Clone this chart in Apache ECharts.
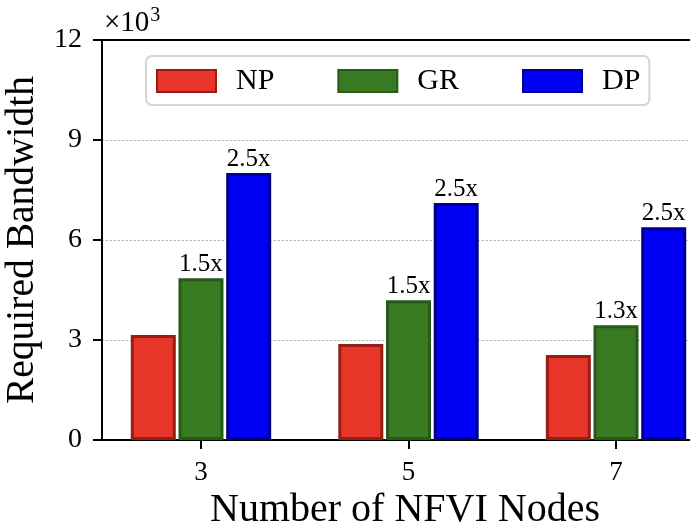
<!DOCTYPE html>
<html>
<head>
<meta charset="utf-8">
<script src="https://cdn.jsdelivr.net/npm/echarts@6/dist/echarts.min.js"></script>
<style>
html,body{margin:0;padding:0;background:#fff;}
#chart{width:690px;height:531px;}
</style>
</head>
<body>
<div id="chart"></div>
<script>
// ---- data ----
var nodes = [3, 5, 7];
var npValues = [3150, 2880, 2550];
var grValues = [4850, 4190, 3440];
var dpValues = [8010, 7110, 6380];
var grLabels = ['1.5x', '1.5x', '1.3x'];
var dpLabels = ['2.5x', '2.5x', '2.5x'];
var yTicks = [0, 3000, 6000, 9000, 12000];
var seriesNames = ['NP', 'GR', 'DP'];

var FONT = '"Liberation Serif", "Times New Roman", serif';

function pairs(vals) {
  return vals.map(function (v, i) { return [nodes[i], v]; });
}

function makeSeries(name, vals, fill, border, labels) {
  var s = {
    name: name,
    type: 'bar',
    xAxisIndex: 0,
    data: pairs(vals),
    barWidth: 45,
    barGap: '6%',
    itemStyle: { color: fill, borderColor: border, borderWidth: 3 },
    emphasis: { disabled: true },
    animation: false
  };
  if (labels) {
    s.label = {
      show: true,
      position: 'top',
      distance: 1,
      fontFamily: FONT,
      fontSize: 25,
      color: '#000',
      formatter: function (p) { return labels[p.dataIndex]; }
    };
  }
  return s;
}

var XMIN = 2.046, XMAX = 7.713;

var chart = echarts.init(document.getElementById('chart'), null, { renderer: 'canvas' });
chart.setOption({
  backgroundColor: '#fff',
  animation: false,
  grid: { left: 102, top: 40, right: 0, bottom: 91, show: false, containLabel: false, outerBoundsMode: 'none' },
  legend: {
    data: seriesNames.map(function (n) { return { name: n, icon: 'rect' }; }),
    left: 146, top: 56,
    orient: 'horizontal',
    itemWidth: 59, itemHeight: 22,
    itemGap: 63,
    padding: [10, 9, 9, 10],
    borderColor: '#d4d4d4', borderWidth: 2, borderRadius: 6,
    backgroundColor: '#fff',
    textStyle: { fontFamily: FONT, fontSize: 30, color: '#000', padding: [0, 0, 0, 15], lineHeight: 30 },
    selectedMode: false
  },
  graphic: [{
    type: 'text',
    left: 104, top: 6,
    style: {
      text: '{a|×10}{b|3}',
      rich: {
        a: { fontFamily: FONT, fontSize: 29, fill: '#000', verticalAlign: 'bottom' },
        b: { fontFamily: FONT, fontSize: 20, fill: '#000', verticalAlign: 'top', padding: [0, 0, 12, 1] }
      }
    }
  }],
  xAxis: [{
    type: 'value',
    min: XMIN, max: XMAX,
    name: 'Number of NFVI Nodes',
    nameLocation: 'middle',
    nameGap: 50,
    nameTextStyle: { fontFamily: FONT, fontSize: 40, color: '#000', padding: [0, 0, 0, 18] },
    axisLine: { show: true, lineStyle: { color: '#000', width: 2 } },
    axisTick: { show: true, customValues: nodes, length: 9, lineStyle: { color: '#000', width: 2 } },
    axisLabel: { customValues: nodes, margin: 19, fontFamily: FONT, fontSize: 27, color: '#000' },
    splitLine: { show: false }
  }, {
    type: 'value',
    position: 'top',
    min: XMIN, max: XMAX,
    axisLine: { show: true, lineStyle: { color: '#000', width: 2 } },
    axisTick: { show: false },
    axisLabel: { show: false },
    splitLine: { show: false }
  }],
  yAxis: {
    type: 'value',
    min: 0, max: 12000, interval: 3000,
    name: 'Required Bandwidth',
    nameLocation: 'middle',
    nameGap: 44,
    nameRotate: 90,
    nameTextStyle: { fontFamily: FONT, fontSize: 39.5, color: '#000' },
    axisLine: { show: true, lineStyle: { color: '#000', width: 2 } },
    axisTick: { show: true, length: 9, lineStyle: { color: '#000', width: 2 } },
    axisLabel: {
      margin: 20, fontFamily: FONT, fontSize: 28, color: '#000',
      formatter: function (v) { return String(v / 1000); }
    },
    splitLine: { show: true, lineStyle: { color: '#999', width: 1, type: [1.5, 2.5] } }
  },
  series: [
    makeSeries(seriesNames[0], npValues, '#E8352A', '#961C16', null),
    makeSeries(seriesNames[1], grValues, '#377A22', '#265A18', grLabels),
    makeSeries(seriesNames[2], dpValues, '#0000F5', '#00008C', dpLabels)
  ]
});
</script>
</body>
</html>
